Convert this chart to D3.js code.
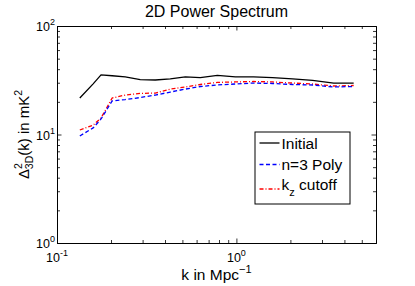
<!DOCTYPE html>
<html>
<head>
<meta charset="utf-8">
<script src="https://cdn.jsdelivr.net/npm/d3@7"></script>
<style>
body { margin: 0; background: #fff; }
svg { display: block; }
text { font-family: "Liberation Sans", Arial, Helvetica, sans-serif; fill: #000; }
</style>
</head>
<body>
<svg class="chart" width="415" height="286"></svg>
<script>
// k bins (Mpc^-1)
var k = [0.134, 0.159, 0.176, 0.203, 0.240, 0.291, 0.353, 0.428, 0.519, 0.629,
         0.783, 0.987, 1.245, 1.589, 2.055, 2.658, 3.484, 4.505];
// power spectra (mK^2)
var initial = [21.7, 29.3, 35.4, 34.8, 33.9, 32.1, 31.8, 32.5, 33.9, 33.5,
               35.0, 33.9, 33.9, 33.5, 32.5, 31.5, 29.8, 29.8];
var poly = [9.7, 11.5, 13.9, 20.4, 21.0, 21.9, 23.1, 24.6, 26.2, 27.7,
            28.6, 29.2, 29.8, 29.5, 28.9, 28.6, 27.4, 27.7];
var cutoff = [11.0, 12.2, 14.2, 21.7, 23.1, 23.9, 24.1, 26.2, 27.4, 28.9,
              30.2, 30.5, 30.8, 30.5, 29.8, 29.2, 28.0, 28.3];
// ticks
var xTicks = [0.1, 1];
var xTickLabels = [["10", "-1"], ["10", "0"]];
var yTicks = [1, 10, 100];
var yTickLabels = [["10", "0"], ["10", "1"], ["10", "2"]];
var legendNames = ["Initial", "n=3 Poly", "k_z cutoff"];

// plot box
var boxL = 57, boxR = 376, boxT = 26, boxB = 243;

var chart = d3.select(".chart");

var x = d3.scaleLog().domain([0.1, 6]).range([boxL, boxR]);
var y = d3.scaleLog().domain([1, 100]).range([boxB, boxT]);

// minor ticks at 2..9 of every decade
function minors(lo, hi, dom) {
    var out = [];
    for (var d = lo; d <= hi; d *= 10) {
        for (var m = 2; m <= 9; m++) {
            var v = d * m;
            if (v > dom[0] && v < dom[1]) out.push(v);
        }
    }
    return out;
}
var xMinor = minors(0.1, 10, x.domain());
var yMinor = minors(1, 100, y.domain());

function styleAxis(g) {
    g.selectAll("path").attr("stroke", "#000").attr("stroke-width", 1);
    g.selectAll("line").attr("stroke", "#000").attr("stroke-width", 0.8);
    g.selectAll("text").remove();
}

// major + minor ticks on all four sides, pointing inside
chart.append("g").attr("transform", "translate(0," + boxB + ")")
    .call(d3.axisBottom(x).tickValues(xTicks).tickSizeInner(-4.5).tickSizeOuter(0)).call(styleAxis);
chart.append("g").attr("transform", "translate(0," + boxB + ")")
    .call(d3.axisBottom(x).tickValues(xMinor).tickSizeInner(-3).tickSizeOuter(0)).call(styleAxis);
chart.append("g").attr("transform", "translate(0," + boxT + ")")
    .call(d3.axisTop(x).tickValues(xTicks).tickSizeInner(-4.5).tickSizeOuter(0)).call(styleAxis);
chart.append("g").attr("transform", "translate(0," + boxT + ")")
    .call(d3.axisTop(x).tickValues(xMinor).tickSizeInner(-3).tickSizeOuter(0)).call(styleAxis);
chart.append("g").attr("transform", "translate(" + boxL + ",0)")
    .call(d3.axisLeft(y).tickValues(yTicks).tickSizeInner(-4.5).tickSizeOuter(0)).call(styleAxis);
chart.append("g").attr("transform", "translate(" + boxL + ",0)")
    .call(d3.axisLeft(y).tickValues(yMinor).tickSizeInner(-3).tickSizeOuter(0)).call(styleAxis);
chart.append("g").attr("transform", "translate(" + boxR + ",0)")
    .call(d3.axisRight(y).tickValues(yTicks).tickSizeInner(-4.5).tickSizeOuter(0)).call(styleAxis);
chart.append("g").attr("transform", "translate(" + boxR + ",0)")
    .call(d3.axisRight(y).tickValues(yMinor).tickSizeInner(-3).tickSizeOuter(0)).call(styleAxis);

// tick labels: 10 with superscript exponent
function powerLabel(sel, base, exp, size) {
    sel.append("tspan").text(base);
    sel.append("tspan").attr("dy", -6).attr("font-size", size * 0.72).text(exp);
}
xTicks.forEach(function(v, i) {
    var t = chart.append("text").attr("x", x(v)).attr("y", 262)
        .attr("text-anchor", "middle").attr("font-size", 12.5);
    powerLabel(t, xTickLabels[i][0], xTickLabels[i][1], 12.5);
});
yTicks.forEach(function(v, i) {
    var t = chart.append("text").attr("x", boxL - 2).attr("y", y(v) + 5)
        .attr("text-anchor", "end").attr("font-size", 12.5);
    powerLabel(t, yTickLabels[i][0], yTickLabels[i][1], 12.5);
});

// the lines
var line = d3.line()
    .x(function(d) { return x(d[0]); })
    .y(function(d) { return y(d[1]); });

var series = [
    {vals: initial, color: "#000", dash: null},
    {vals: poly, color: "#0000ff", dash: "4,2.5"},
    {vals: cutoff, color: "#ff0000", dash: "4,2,1,2"}
];

series.slice().reverse().forEach(function(s) {
    chart.append("path")
        .datum(k.map(function(kv, i) { return [kv, s.vals[i]]; }))
        .attr("d", line)
        .attr("fill", "none")
        .attr("stroke", s.color)
        .attr("stroke-width", 1.3)
        .attr("stroke-dasharray", s.dash);
});

// title
chart.append("text").attr("x", (boxL + boxR) / 2).attr("y", 17)
    .attr("text-anchor", "middle").attr("font-size", 16).text("2D Power Spectrum");

// x label
var xl = chart.append("text").attr("x", (boxL + boxR) / 2).attr("y", 280)
    .attr("text-anchor", "middle").attr("font-size", 15.5);
xl.append("tspan").text("k in Mpc");
xl.append("tspan").attr("dy", -7).attr("font-size", 11).text("\u22121");

// y label
var yl = chart.append("text")
    .attr("transform", "translate(29," + ((boxT + boxB) / 2) + ") rotate(-90)")
    .attr("text-anchor", "middle").attr("font-size", 15);
yl.append("tspan").text("\u0394");
yl.append("tspan").attr("dy", -7).attr("font-size", 10.5).text("2");
yl.append("tspan").attr("dx", -6).attr("dy", 11).attr("font-size", 10.5).text("3D");
yl.append("tspan").attr("dy", -4).text("(k) in mK");
yl.append("tspan").attr("dy", -7).attr("font-size", 10.5).text("2");

// legend
var lg = chart.append("g").attr("transform", "translate(255,132)");
lg.append("rect").attr("width", 95).attr("height", 72)
    .attr("fill", "#fff").attr("stroke", "#000").attr("stroke-width", 1);

var rowY = [11, 32.5, 57];
series.forEach(function(s, i) {
    lg.append("line")
        .attr("x1", 4.5).attr("x2", 24.5)
        .attr("y1", rowY[i]).attr("y2", rowY[i])
        .attr("stroke", s.color).attr("stroke-width", 1.3)
        .attr("stroke-dasharray", s.dash);
    var t = lg.append("text").attr("x", 26.5).attr("y", rowY[i] + 5.5).attr("font-size", 15.5);
    var name = legendNames[i];
    if (name.indexOf("_") >= 0) {
        var parts = name.split("_");
        t.attr("y", rowY[i] + 1);
        t.append("tspan").text(parts[0]);
        t.append("tspan").attr("dy", 6).attr("font-size", 11).text(parts[1].charAt(0));
        t.append("tspan").attr("dy", -6).text(parts[1].slice(1));
    } else {
        t.text(name);
    }
});
</script>
</body>
</html>
